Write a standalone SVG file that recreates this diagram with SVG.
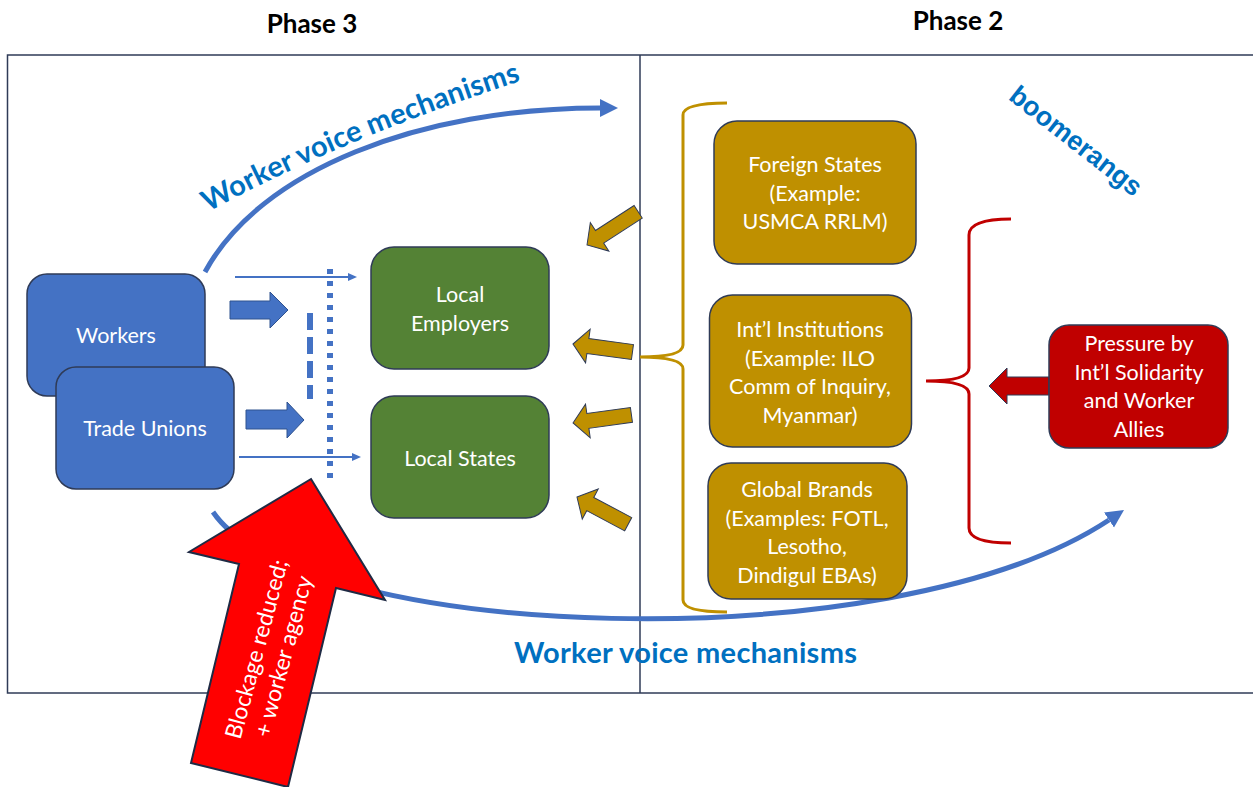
<svg xmlns="http://www.w3.org/2000/svg" width="1253" height="787" viewBox="0 0 1253 787">
<style>
.node{stroke:#2F3B57;stroke-width:1.5}
.blue{fill:#4472C4}
.green{fill:#548235}
.gold{fill:#BF9000}
.red{fill:#C00000}
.lbl{font-family:Lato,"Open Sans",sans-serif;font-size:21.5px;fill:#fff;text-anchor:middle}
.title{font-family:Lato,"Liberation Sans",sans-serif;font-size:26px;font-weight:bold;fill:#000;text-anchor:middle}
.wvm{font-family:Lato,"Liberation Sans",sans-serif;font-size:29px;font-weight:bold;fill:#0070C0}
.curve{fill:none;stroke:#4472C4;stroke-width:5}
.garrow{fill:#BF9000;stroke:#2F3B57;stroke-width:1}
.barrow{fill:#4472C4;stroke:#2F528F;stroke-width:1}
</style>
<defs>
<marker id="bh" markerUnits="userSpaceOnUse" markerWidth="20" markerHeight="20" refX="0" refY="9" orient="auto" viewBox="0 0 20 18">
<path d="M0,0 L18,9 L0,18 z" fill="#4472C4"/>
</marker>
<marker id="sh" markerUnits="userSpaceOnUse" markerWidth="10" markerHeight="10" refX="0" refY="4" orient="auto" viewBox="0 0 10 8">
<path d="M0,0 L9,4 L0,8 z" fill="#4472C4"/>
</marker>
<path id="wvmPath" d="M208,212 Q 350,135 530,78"/>
</defs>
<rect width="1253" height="787" fill="#fff"/>
<text class="title" x="312" y="33">Phase 3</text>
<text class="title" x="958" y="30">Phase 2</text>
<g id="frame" fill="none" stroke="#2F3B57" stroke-width="1.5">
<rect x="7.5" y="55" width="1260" height="638"/>
<line x1="640" y1="55" x2="640" y2="693"/>
</g>
<g id="connectors">
<path class="curve" d="M205,272 C 260,170 420,108 600,108" marker-end="url(#bh)"/>
<path class="curve" d="M213,512 C 300,640 890,665 1109,520" marker-end="url(#bh)"/>
<line x1="235" y1="277" x2="348" y2="277" stroke="#4472C4" stroke-width="2" marker-end="url(#sh)"/>
<line x1="239" y1="457" x2="352" y2="457" stroke="#4472C4" stroke-width="2" marker-end="url(#sh)"/>
<line x1="310" y1="313" x2="310" y2="399" stroke="#4472C4" stroke-width="6" stroke-dasharray="17 7"/>
<line x1="330" y1="269" x2="330" y2="479" stroke="#4472C4" stroke-width="6" stroke-dasharray="5 7"/>
<polygon class="barrow" points="230,301 270,301 270,292 288,310 270,328 270,319 230,319"/>
<polygon class="barrow" points="246,410 287,410 287,402 304,420 287,438 287,429 246,429"/>
<polygon class="garrow" transform="translate(587,245) rotate(-33)" points="0,0 15,-17 15,-7.5 61,-7.5 61,7.5 15,7.5 15,17"/>
<polygon class="garrow" transform="translate(573,344) rotate(7.7)" points="0,0 15,-17 15,-7.5 60,-7.5 60,7.5 15,7.5 15,17"/>
<polygon class="garrow" transform="translate(573,423) rotate(-7.9)" points="0,0 15,-17 15,-7.5 59,-7.5 59,7.5 15,7.5 15,17"/>
<polygon class="garrow" transform="translate(577,497) rotate(28)" points="0,0 15,-17 15,-7.5 58,-7.5 58,7.5 15,7.5 15,17"/>
<path d="M727,103 Q 683,103 683,115 L 683,345 Q 683,357 640,357 Q 683,357 683,369 L 683,600 Q 683,612 727,612" fill="none" stroke="#BF9000" stroke-width="3"/>
<path d="M1011,219 Q 969,219 969,235 L 969,368 Q 969,381 926,381 Q 969,381 969,394 L 969,528 Q 969,543 1011,543" fill="none" stroke="#C00000" stroke-width="3"/>
<polygon points="989,386 1007,368 1007,377 1049,377 1049,395 1007,395 1007,404" fill="#C00000" stroke="#2F3B57" stroke-width="1"/>
</g>
<g id="workers"><rect class="node blue" x="27" y="274" width="178" height="122" rx="20"/><text class="lbl" x="116" y="343">Workers</text></g>
<g id="trade-unions"><rect class="node blue" x="56" y="367" width="178" height="122" rx="20"/><text class="lbl" x="145" y="436">Trade Unions</text></g>
<g id="local-employers"><rect class="node green" x="371" y="247" width="178" height="122" rx="23"/><text class="lbl" x="460" y="302">Local<tspan x="460" dy="28.5">Employers</tspan></text></g>
<g id="local-states"><rect class="node green" x="371" y="396" width="178" height="122" rx="23"/><text class="lbl" x="460" y="466">Local States</text></g>
<g id="foreign-states"><rect class="node gold" x="714" y="121" width="202" height="143" rx="23"/><text class="lbl" x="815" y="172">Foreign States<tspan x="815" dy="28.5">(Example:</tspan><tspan x="815" dy="28.5">USMCA RRLM)</tspan></text></g>
<g id="intl-institutions"><rect class="node gold" x="709.5" y="295" width="202" height="152" rx="23"/><text class="lbl" x="810" y="337">Int’l Institutions<tspan x="810" dy="28.5">(Example: ILO</tspan><tspan x="810" dy="28.5">Comm of Inquiry,</tspan><tspan x="810" dy="28.5">Myanmar)</tspan></text></g>
<g id="global-brands"><rect class="node gold" x="708" y="463" width="199" height="136" rx="23"/><text class="lbl" x="807" y="497">Global Brands<tspan x="807" dy="28.5">(Examples: FOTL,</tspan><tspan x="807" dy="28.5">Lesotho,</tspan><tspan x="807" dy="28.5">Dindigul EBAs)</tspan></text></g>
<g id="pressure"><rect class="node red" x="1049" y="325" width="179" height="123" rx="20"/><text class="lbl" x="1139" y="351">Pressure by<tspan x="1139" dy="28.5">Int’l Solidarity</tspan><tspan x="1139" dy="28.5">and Worker</tspan><tspan x="1139" dy="28.5">Allies</tspan></text></g>
<g id="blockage">
<polygon points="311,479 385,600 336,588 288,787 191,763 239,564 189,552" fill="#FF0000" stroke="#1F2A44" stroke-width="2"/>
<text transform="translate(271,653) rotate(-75)" style="font-family:Lato,'Open Sans',sans-serif;font-size:23px;fill:#fff;text-anchor:middle"><tspan x="0" y="-7">Blockage reduced;</tspan><tspan x="0" y="21">+ worker agency</tspan></text>
</g>
<text class="wvm"><textPath href="#wvmPath" textLength="340" lengthAdjust="spacing">Worker voice mechanisms</textPath></text>
<text class="wvm" x="514" y="663" textLength="343" lengthAdjust="spacing">Worker voice mechanisms</text>
<text transform="translate(1076,141) rotate(38)" x="0" y="9" style="font-family:'Liberation Sans',Arial,sans-serif;font-size:27px;font-weight:bold;fill:#0070C0;text-anchor:middle" textLength="160" lengthAdjust="spacingAndGlyphs">boomerangs</text>
</svg>
